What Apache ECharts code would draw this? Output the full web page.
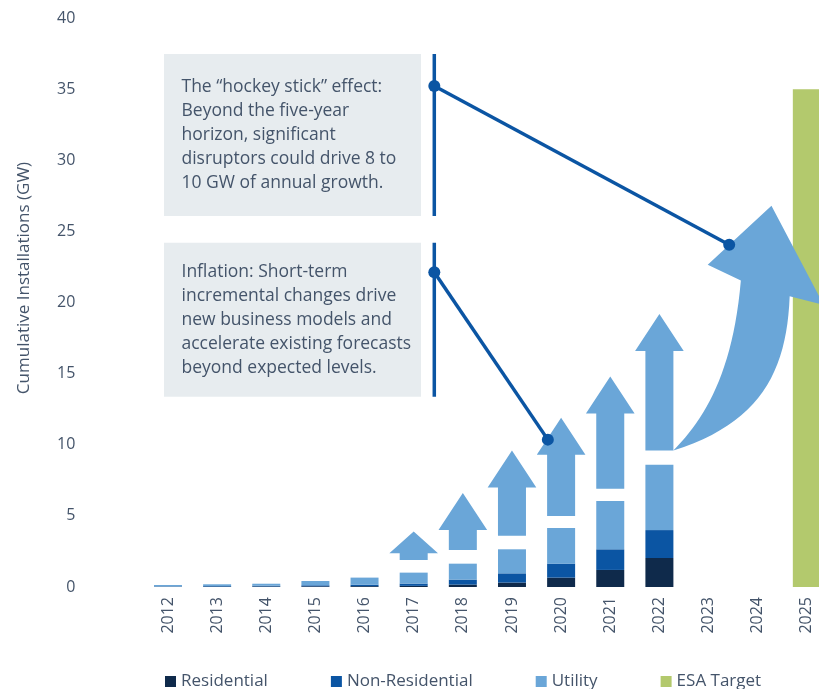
<!DOCTYPE html>
<html>
<head>
<meta charset="utf-8">
<script src="https://cdn.jsdelivr.net/npm/echarts@6/dist/echarts.min.js"></script>
<style>
  html, body { margin: 0; padding: 0; background: #ffffff; }
  #chart { width: 819px; height: 689px; }
</style>
</head>
<body>
<div id="chart"></div>
<script>
// Cumulative solar installations (GW) by segment, with the 2025 ESA target
const years = ['2012', '2013', '2014', '2015', '2016', '2017', '2018', '2019', '2020', '2021', '2022', '2023', '2024', '2025'];
const residential    = [0.02, 0.03, 0.04, 0.05, 0.06, 0.08, 0.17, 0.31, 0.66, 1.20, 2.04, null, null, null];
const nonResidential = [0.02, 0.04, 0.05, 0.07, 0.10, 0.16, 0.35, 0.65, 0.98, 1.45, 1.96, null, null, null];
const utility        = [0.10, 0.12, 0.14, 0.30, 0.50, 0.77, 1.12, 1.69, 2.51, 3.40, 4.60, null, null, null];
const esaTarget      = [null, null, null, null, null, null, null, null, null, null, null, null, null, 35];

// Growth arrows drawn above the bars (start and end, GW)
const growthYears = ['2017', '2018', '2019', '2020', '2021', '2022'];
const growthFrom  = [1.9, 2.6, 3.6, 5.0, 6.9, 9.6];
const growthTo    = [3.9, 6.6, 9.6, 11.9, 14.8, 19.2];

// "Hockey stick" arrow tip (GW)
const hockeyTipValue = 26.8;

// Call-out texts and the values their connectors point at
const calloutTexts = [
  'The \u201chockey stick\u201d effect:\nBeyond the five-year\nhorizon, significant\ndisruptors could drive 8 to\n10 GW of annual growth.',
  'Inflation: Short-term\nincremental changes drive\nnew business models and\naccelerate existing forecasts\nbeyond expected levels.'
];
const calloutTargetValues = [24.06, 10.36];

const legendNames = ['Residential', 'Non-Residential', 'Utility', 'ESA Target'];

const TEXT = '#44546a';
const FONT = '"Open Sans", "Noto Sans", sans-serif';
const C_RES = '#0f2a4b';
const C_NONRES = '#0b55a3';
const C_UTIL = '#6aa6d8';
const C_ESA = '#b3c96d';
const C_LINE = '#0b55a3';

const chart = echarts.init(document.getElementById('chart'), null, { renderer: 'canvas' });

function cubic(p0, p1, p2, p3, n) {
  const out = [];
  for (let i = 1; i <= n; i++) {
    const t = i / n, m = 1 - t;
    out.push([
      m * m * m * p0[0] + 3 * m * m * t * p1[0] + 3 * m * t * t * p2[0] + t * t * t * p3[0],
      m * m * m * p0[1] + 3 * m * m * t * p1[1] + 3 * m * t * t * p2[1] + t * t * t * p3[1]
    ]);
  }
  return out;
}

const SHAFT_HALF = 14;

function renderGrowthArrow(params, api) {
  const cat = api.value(0);
  const base = api.coord([cat, api.value(1)]);
  const tip = api.coord([cat, api.value(2)]);
  const band = api.size([1, 0])[0];
  const headHalf = band * 0.495;
  const len = base[1] - tip[1];
  const headH = Math.min(37, len * 0.76);
  const cx = base[0];
  const hb = tip[1] + headH;
  return {
    type: 'polygon',
    shape: {
      points: [
        [cx - SHAFT_HALF, base[1]], [cx - SHAFT_HALF, hb], [cx - headHalf, hb],
        [cx, tip[1]],
        [cx + headHalf, hb], [cx + SHAFT_HALF, hb], [cx + SHAFT_HALF, base[1]]
      ]
    },
    style: { fill: C_UTIL }
  };
}

function renderAnnotations(params, api) {
  const band = api.size([1, 0])[0];
  const x0 = api.coord([0, 0])[0];
  const pt = (idx, v) => [x0 + idx * band, api.coord([0, v])[1]];

  // Hockey stick arrow: leaves the base of the last growth arrow
  const lastIdx = years.indexOf(growthYears[growthYears.length - 1]);
  const tail = [x0 + lastIdx * band + SHAFT_HALF, api.coord([0, growthFrom[growthFrom.length - 1]])[1]];
  const tip = pt(12.28, hockeyTipValue);
  const dx = tip[0] - tail[0], dy = tail[1] - tip[1];
  const L = (u, w) => [tail[0] + u * dx, tail[1] - w * dy];
  const pts = [tail]
    .concat(cubic(tail, L(0.322, 0.132), L(0.607, 0.319), L(0.688, 0.695), 24))
    .concat([L(0.350, 0.759), L(1, 1), L(1.532, 0.595), L(1.186, 0.630)])
    .concat(cubic(L(1.186, 0.630), L(1.155, 0.319), L(0.881, 0.111), tail, 24));

  const children = [{
    type: 'polygon', shape: { points: pts }, style: { fill: C_UTIL }
  }];

  // Call-out boxes with their vertical rules and connectors
  const boxes = [
    { x: 164, y: 54, w: 257, h: 162, ruleX: 434.3, dotY: 86, textY: 74.5 },
    { x: 164, y: 242.7, w: 257, h: 154, ruleX: 434.3, dotY: 272.3, textY: 259.6 }
  ];
  const ends = [pt(11.42, calloutTargetValues[0]), pt(7.73, calloutTargetValues[1])];

  boxes.forEach((b, i) => {
    children.push({ type: 'rect', shape: { x: b.x, y: b.y, width: b.w, height: b.h }, style: { fill: '#e7ecef' } });
    children.push({
      type: 'text', x: 181.5, y: b.textY,
      style: { text: calloutTexts[i], fill: TEXT, fontSize: 17.5, fontFamily: FONT, lineHeight: 24.2, verticalAlign: 'top', align: 'left' }
    });
    children.push({ type: 'line', shape: { x1: b.ruleX, y1: b.y, x2: b.ruleX, y2: b.y + b.h }, style: { stroke: C_LINE, lineWidth: 3.5 } });
    children.push({ type: 'line', shape: { x1: b.ruleX, y1: b.dotY, x2: ends[i][0], y2: ends[i][1] }, style: { stroke: C_LINE, lineWidth: 3.5 } });
    children.push({ type: 'circle', shape: { cx: b.ruleX, cy: b.dotY, r: 6 }, style: { fill: C_LINE } });
    children.push({ type: 'circle', shape: { cx: ends[i][0], cy: ends[i][1], r: 6 }, style: { fill: C_LINE } });
  });

  return { type: 'group', children };
}

const option = {
  animation: false,
  backgroundColor: '#ffffff',
  textStyle: { fontFamily: FONT, color: TEXT },
  grid: { left: 143.4, top: 18, width: 688, height: 569, containLabel: false, outerBoundsMode: 'none' },
  legend: {
    data: legendNames,
    left: 160, top: 668,
    itemWidth: 11, itemHeight: 11, itemGap: 63,
    icon: 'rect',
    textStyle: { color: TEXT, fontSize: 17, fontFamily: FONT }
  },
  xAxis: {
    type: 'category',
    data: years,
    axisLine: { show: false },
    axisTick: { show: false },
    axisLabel: { rotate: 90, margin: 10, color: TEXT, fontSize: 16, fontFamily: FONT }
  },
  yAxis: {
    type: 'value',
    min: 0, max: 40, interval: 5,
    axisLine: { show: false },
    axisTick: { show: false },
    splitLine: { show: false },
    axisLabel: { margin: 68, color: TEXT, fontSize: 16, fontFamily: FONT }
  },
  graphic: [{
    type: 'text',
    x: 24, y: 278, rotation: Math.PI / 2,
    style: { text: 'Cumulative Installations (GW)', fill: TEXT, fontSize: 17, fontFamily: FONT, align: 'center', verticalAlign: 'middle' }
  }],
  series: [
    { name: 'Residential', type: 'bar', stack: 'total', barWidth: 28, data: residential, itemStyle: { color: C_RES } },
    { name: 'Non-Residential', type: 'bar', stack: 'total', barWidth: 28, data: nonResidential, itemStyle: { color: C_NONRES } },
    { name: 'Utility', type: 'bar', stack: 'total', barWidth: 28, data: utility, itemStyle: { color: C_UTIL } },
    { name: 'ESA Target', type: 'bar', stack: 'total', barWidth: 28, data: esaTarget, itemStyle: { color: C_ESA } },
    {
      name: 'growth', type: 'custom', z: 3, silent: true,
      data: growthYears.map((y, i) => [y, growthFrom[i], growthTo[i]]),
      encode: { x: 0, y: [1, 2] },
      renderItem: renderGrowthArrow
    },
    {
      name: 'annotations', type: 'custom', z: 4, silent: true,
      data: [[years[0], 0]],
      encode: { x: 0, y: 1 },
      renderItem: renderAnnotations
    }
  ]
};

chart.setOption(option);
</script>
</body>
</html>
